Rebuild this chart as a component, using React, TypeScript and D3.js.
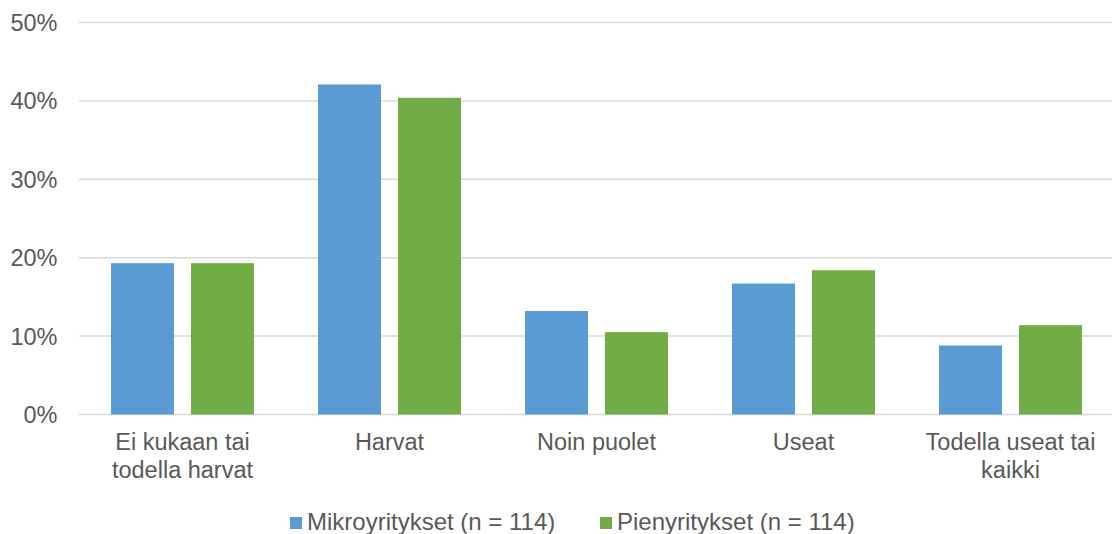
import React from "react";
import * as d3 from "d3";

const categories = [
  ["Ei kukaan tai", "todella harvat"],
  ["Harvat"],
  ["Noin puolet"],
  ["Useat"],
  ["Todella useat tai", "kaikki"],
];
const seriesNames = ["Mikroyritykset (n = 114)", "Pienyritykset (n = 114)"];
const mikro = [19.3, 42.1, 13.2, 16.7, 8.8];
const pieny = [19.3, 40.4, 10.5, 18.4, 11.4];
const yTicks = [0, 10, 20, 30, 40, 50];
const colors = ["#5B9BD5", "#70AD47"];

const W = 1112;
const H = 534;

export default function App() {
  const x = d3
    .scaleBand<number>()
    .domain(d3.range(categories.length))
    .range([79, 1114])
    .paddingInner(0)
    .paddingOuter(0);
  const y = d3.scaleLinear().domain([0, 50]).range([414.5, 22.5]);
  const barW = 63;
  const gap = 17;
  const series = [mikro, pieny];
  const font = "'Liberation Sans', Arial, sans-serif";
  const textColor = "#595959";
  const fs = 23.5;
  const legendFs = 24;
  const legendX = [290, 600];

  return (
    <svg
      width={W}
      height={H}
      style={{ position: "absolute", left: 0, top: 0, background: "#fff" }}
    >
      {yTicks.map((t) => (
        <g key={t}>
          <line
            x1={79}
            x2={W}
            y1={y(t)}
            y2={y(t)}
            stroke="#D9D9D9"
            strokeWidth={1.5}
          />
          <text
            x={57.5}
            y={y(t)}
            dy="0.36em"
            textAnchor="end"
            fontFamily={font}
            fontSize={fs}
            fill={textColor}
          >
            {t}%
          </text>
        </g>
      ))}
      {series.map((vals, si) =>
        vals.map((v, i) => {
          const cx = x(i)! + x.bandwidth() / 2;
          const left = cx - gap / 2 - barW + si * (barW + gap);
          return (
            <rect
              key={`${si}-${i}`}
              x={left}
              y={y(v)}
              width={barW}
              height={y(0) - y(v)}
              fill={colors[si]}
            />
          );
        })
      )}
      {categories.map((lines, i) => (
        <text
          key={i}
          x={x(i)! + x.bandwidth() / 2}
          y={450}
          textAnchor="middle"
          fontFamily={font}
          fontSize={fs}
          fill={textColor}
        >
          {lines.map((l, k) => (
            <tspan key={k} x={x(i)! + x.bandwidth() / 2} dy={k === 0 ? 0 : 28}>
              {l}
            </tspan>
          ))}
        </text>
      ))}
      {seriesNames.map((name, si) => {
        const lx = legendX[si];
        return (
          <g key={name}>
            <rect x={lx} y={517} width={12} height={12} fill={colors[si]} />
            <text
              x={lx + 17}
              y={530}
              fontFamily={font}
              fontSize={legendFs}
              fill={textColor}
            >
              {name}
            </text>
          </g>
        );
      })}
    </svg>
  );
}
